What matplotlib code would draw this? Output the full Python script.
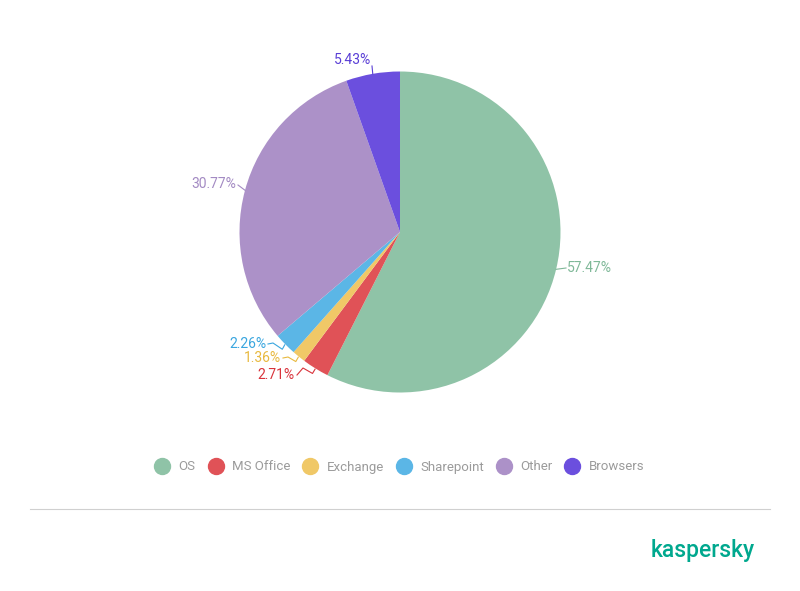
import numpy as np
import matplotlib
matplotlib.use("Agg")
import matplotlib.pyplot as plt
from matplotlib.lines import Line2D

categories = ["OS", "MS Office", "Exchange", "Sharepoint", "Other", "Browsers"]
values = [57.47, 2.71, 1.36, 2.26, 30.77, 5.43]
labels = ["57.47%", "2.71%", "1.36%", "2.26%", "30.77%", "5.43%"]
colors = ["#8fc3a7", "#e05257", "#f0c867", "#5bb6e6", "#ac91c8", "#6b4fde"]
label_colors = ["#7fb898", "#d9333b", "#e8b93f", "#3aa6df", "#a38ac3", "#5a3fd6"]

plt.rcParams['font.family'] = ['Roboto', 'DejaVu Sans']

W, H = 800, 591
fig = plt.figure(figsize=(W / 100, H / 100), dpi=100)
cx, cy, R = 400, 232, 160.5
ax = fig.add_axes([(cx - R) / W, (H - cy - R) / H, 2 * R / W, 2 * R / H])

wedges, _ = ax.pie(values, colors=colors, startangle=90, counterclock=False,
                   radius=1, wedgeprops=dict(linewidth=0))
ax.set_xlim(-1, 1)
ax.set_ylim(-1, 1)
ax.set_aspect('equal')
ax.axis('off')

def px(xp, yp):
    return ((xp - cx) / R, (cy - yp) / R)

# label anchors (layout, in pixel positions) and alignments
label_pos = {
    "OS": ((567, 268), 'left'),
    "MS Office": ((295, 375), 'right'),
    "Exchange": ((281, 358), 'right'),
    "Sharepoint": ((266, 344), 'right'),
    "Other": ((236, 184), 'right'),
    "Browsers": ((371, 60), 'right'),
}

for w, cat, lab, lc in zip(wedges, categories, labels, label_colors):
    mid = np.deg2rad((w.theta1 + w.theta2) / 2)
    ex, ey = np.cos(mid), np.sin(mid)
    (lx, ly), ha = label_pos[cat]
    tx, ty = px(lx, ly)
    ax.text(tx, ty, lab, color=lc, fontsize=10, ha=ha, va='center', clip_on=False)
    if cat in ("MS Office", "Exchange", "Sharepoint"):
        sx = tx + 2 / R
        if cat == "MS Office":
            p1 = (sx + 6 / R, ty + 7 / R)
        else:
            p1 = (sx + 5 / R, ty + 1 / R)
        p2 = (ex - 3 / R, ey - 5 / R)
        xs = [sx, p1[0], p2[0], ex * 1.005]
        ys = [ty, p1[1], p2[1], ey * 1.005]
        ax.plot(xs, ys, color=lc, lw=0.8, clip_on=False)
    elif cat == "OS":
        ax.plot([ex, tx - 1 / R], [ey, ty], color=lc, lw=0.8, clip_on=False)
    elif cat == "Other":
        ax.plot([ex, tx + 2 / R], [ey, ty - 1 / R], color=lc, lw=0.8, clip_on=False)
    elif cat == "Browsers":
        ax.plot([ex, tx + 1 / R], [ey, ty - 6 / R], color=lc, lw=0.8, clip_on=False)

handles = [Line2D([0], [0], marker='o', linestyle='None', markersize=11.5,
                  markerfacecolor=c, markeredgecolor=c) for c in colors]
leg = fig.legend(handles, categories, loc='center', bbox_to_anchor=(0.5, 1 - 467 / H),
                 ncol=6, frameon=False, fontsize=9.5, handlelength=1.0,
                 handletextpad=0.75, columnspacing=1.0, labelcolor="#9b9b9b")

fig.add_artist(Line2D([30 / W, 770 / W], [1 - 509 / H, 1 - 509 / H], color="#d0d0d0", lw=0.8))
fig.text(703 / W, 1 - 550 / H, "kaspersky", color="#00a88e", fontsize=16.5,
         fontweight='medium', ha='center', va='center')

fig.savefig("out.png", dpi=100, facecolor="white")
